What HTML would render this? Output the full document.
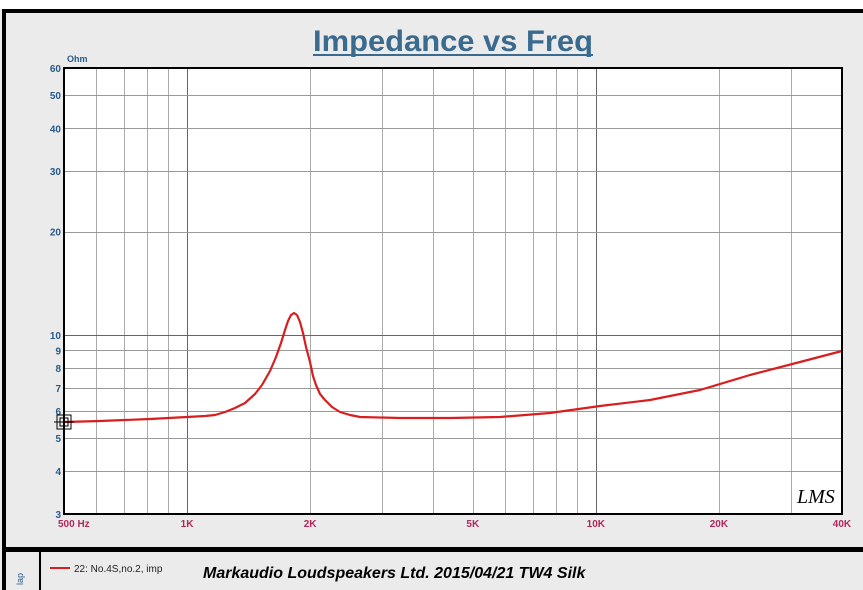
<!DOCTYPE html>
<html><head><meta charset="utf-8"><style>
body{margin:0;width:863px;height:590px;overflow:hidden;background:#ebebeb;font-family:"Liberation Sans",Arial,sans-serif}
</style></head><body>
<svg id="s" width="863" height="590" xmlns="http://www.w3.org/2000/svg" style="position:absolute;left:0;top:0">
<rect x="0" y="0" width="863" height="590" fill="#ebebeb"/>
<rect x="0" y="0" width="863" height="9" fill="#fff"/>
<rect x="2" y="9" width="861" height="4" fill="#000"/>
<rect x="2" y="9" width="4" height="581" fill="#000"/>
<rect x="2" y="547" width="861" height="5" fill="#000"/>
<rect x="39" y="552" width="2" height="38" fill="#000"/>
<text x="453" y="51" text-anchor="middle" font-size="30" font-weight="bold" fill="#3a6a8e" textLength="280" lengthAdjust="spacingAndGlyphs">Impedance vs Freq</text>
<line x1="313" y1="55" x2="593" y2="55" stroke="#3a6a8e" stroke-width="2"/>
<text x="67" y="62" font-size="9" font-weight="bold" fill="#2a5a8a">Ohm</text>
<rect x="64" y="68" width="778" height="446" fill="#fff"/>
<g id="grid"></g>
<polyline fill="none" stroke="#d81e1e" stroke-width="2.2" stroke-linejoin="round" points="64,422 100,421 150,419 187,417 205,416 215,415 225,412 235,408 245,403 255,394 262,385 270,371 276,357 281,343 285,330 288,321 291,315 294,313 297,315 300,322 303,333 306,347 310,362 313,376 316,385 320,394 325,400 332,407 340,412 350,415 360,417 400,418 450,418 500,417 550,413 600,406 650,400 700,390 750,375 800,362 842,351"/>
<rect x="64" y="68" width="778" height="446" fill="none" stroke="#000" stroke-width="2"/>
<g id="lab" font-size="10" font-weight="bold"></g>
<rect x="57" y="415" width="14" height="14" fill="none" stroke="#000" stroke-width="1"/>
<rect x="60" y="418" width="8" height="8" fill="none" stroke="#000" stroke-width="1"/>
<line x1="54" y1="422" x2="74" y2="422" stroke="#000"/>
<text x="797" y="503" font-size="20" font-style="italic" font-family="Liberation Serif,serif">LMS</text>
<line x1="50" y1="568" x2="70" y2="568" stroke="#d81e1e" stroke-width="2"/>
<text x="74" y="572" font-size="10" fill="#222">22: No.4S,no.2, imp</text>
<text x="203" y="578" font-size="16" font-weight="bold" font-style="italic" fill="#000">Markaudio Loudspeakers Ltd. 2015/04/21 TW4 Silk</text>
<text x="23" y="585" font-size="9" fill="#2a5a8a" transform="rotate(-90 23 585)">lap</text>
</svg>
<script>
var ns="http://www.w3.org/2000/svg",g=document.getElementById('grid'),lab=document.getElementById('lab');
function X(f){return 64+Math.log10(f/500)*408.8}
function Y(o){return 514-Math.log10(o/3)*342.8}
function L(x1,y1,x2,y2,c,w){var l=document.createElementNS(ns,'line');l.setAttribute('x1',x1);l.setAttribute('y1',y1);l.setAttribute('x2',x2);l.setAttribute('y2',y2);l.setAttribute('stroke',c);l.setAttribute('stroke-width',w);g.appendChild(l)}
function T(x,y,s,c,a){var t=document.createElementNS(ns,'text');t.setAttribute('x',x);t.setAttribute('y',y);t.setAttribute('fill',c);t.setAttribute('text-anchor',a);t.textContent=s;lab.appendChild(t)}
var fs=[600,700,800,900,1000,2000,3000,4000,5000,6000,7000,8000,9000,10000,20000,30000];
fs.forEach(function(f){var m=(f==1000||f==10000);var x=Math.round(X(f))+0.5;L(x,68,x,514,m?'#666':'#aaa',1)});
var os=[4,5,6,7,8,9,10,20,30,40,50];
os.forEach(function(o){var y=Math.round(Y(o))+0.5;L(64,y,842,y,(o==10)?'#666':'#999',1)});
[[3,'3'],[4,'4'],[5,'5'],[6,'6'],[7,'7'],[8,'8'],[9,'9'],[10,'10'],[20,'20'],[30,'30'],[40,'40'],[50,'50'],[60,'60']].forEach(function(p){T(61,Y(p[0])+4,p[1],'#2a5a8a','end')});
T(58,527,'500  Hz','#b0285a','start');
[[1000,'1K'],[2000,'2K'],[5000,'5K'],[10000,'10K'],[20000,'20K'],[40000,'40K']].forEach(function(p){T(X(p[0]),527,p[1],'#b0285a','middle')});
</script>
</body></html>
